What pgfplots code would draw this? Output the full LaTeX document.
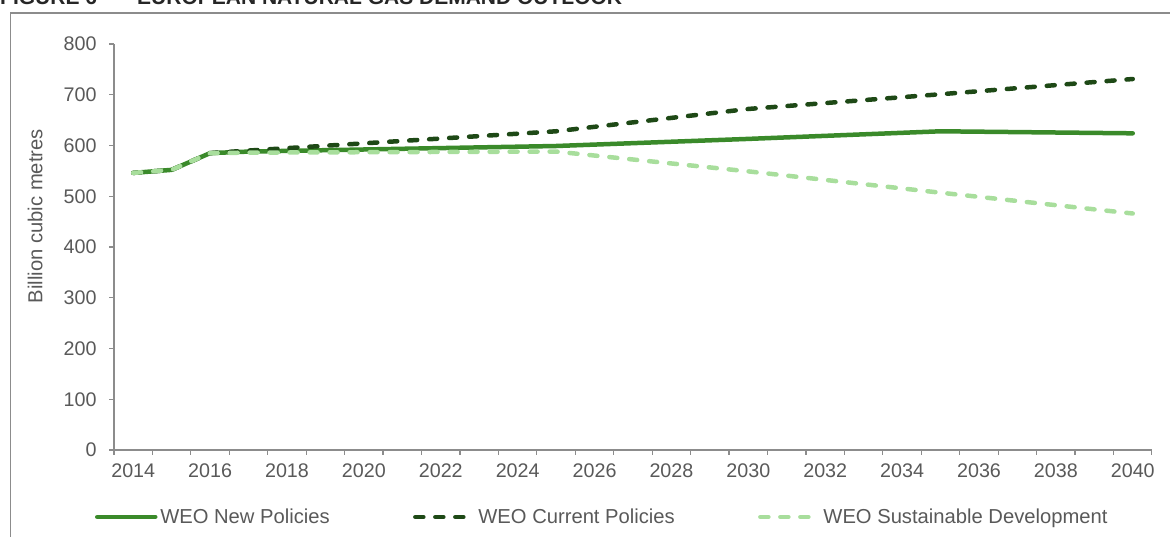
\documentclass[border=0pt]{standalone}
\usepackage{fontspec}
\setmainfont{Liberation Sans}
\usepackage{pgfplots}
\pgfplotsset{compat=1.18}
\definecolor{np}{HTML}{3A8A2A}
\definecolor{cp}{HTML}{1E4916}
\definecolor{sd}{HTML}{A8DE9C}
\definecolor{txt}{HTML}{595959}
\definecolor{axc}{HTML}{8C8C8C}
\begin{document}
\begin{tikzpicture}[x=1pt,y=1pt]
\useasboundingbox (0,0) rectangle (1170,537);
\begin{scope}
\clip (0,0) rectangle (1170,537);
\node[anchor=base west, font=\fontsize{21}{21}\selectfont\bfseries, text=black!85, inner sep=0pt] at (0,532) {FIGURE 6};
\node[anchor=base west, font=\fontsize{21}{21}\selectfont\bfseries, text=black!85, inner sep=0pt] at (137,532) {EUROPEAN NATURAL GAS DEMAND OUTLOOK};
\end{scope}
\draw[axc, line width=1.5pt] (10.5,0) -- (10.5,524) -- (1170,524);
\begin{axis}[
  at={(114pt,87pt)}, anchor=south west,
  scale only axis, width=1038pt, height=406pt,
  xmin=2013.5, xmax=2040.5, ymin=0, ymax=800,
  axis lines*=left,
  axis line style={axc, line width=1.2pt},
  xtick={2014,2016,...,2040},
  minor xtick={2013.5,2014.5,...,2040.5},
  major x tick style={draw=none},
  minor x tick style={axc, line width=1.2pt},
  ytick={0,100,...,800},
  y tick style={axc, line width=1.2pt},
  tick align=outside,
  major tick length=5pt, minor tick length=5pt,
  /pgf/number format/assume math mode=true,
  tick label style={font=\fontsize{19.7}{19.7}\selectfont, text=txt},
  x tick label style={/pgf/number format/1000 sep={}, yshift=-5pt},
  y tick label style={xshift=-9pt},
  ylabel={Billion cubic metres},
  every axis y label/.style={at={(axis description cs:-0.076,0.576)}, rotate=90, anchor=center, font=\fontsize{20.2}{20.2}\selectfont, text=txt},
  legend style={at={(axis description cs:-0.0183,-0.165)}, anchor=west, draw=none, fill=none, inner sep=0pt, outer sep=0pt, font=\fontsize{20.2}{20.2}\selectfont, text=txt, legend columns=3, /tikz/every even column/.append style={column sep=80.5pt}, nodes={inner sep=2.8pt}, legend cell align=left},
  legend image code/.code={\draw[#1] (0pt,0pt) -- (58pt,0pt);},
]
\addplot[np, line width=4.5pt, line cap=round, line join=round] coordinates {(2014,546)(2015,552)(2016,585)(2017,588)(2025,599)(2030,613)(2035,628)(2040,624)};
\addlegendentry{WEO New Policies}
\addplot[cp, line width=4.5pt, line cap=round, line join=round, dash pattern=on 8pt off 12pt] coordinates {(2014,546)(2015,552)(2016,585)(2017,590)(2025,628)(2030,672)(2035,701)(2040,731)};
\addlegendentry{WEO Current Policies}
\addplot[sd, line width=4.5pt, line cap=round, line join=round, dash pattern=on 8pt off 12pt] coordinates {(2014,546)(2015,552)(2016,585)(2017,586)(2025,588)(2030,549)(2035,507)(2040,466)};
\addlegendentry{WEO Sustainable Development}
\end{axis}
\end{tikzpicture}
\end{document}
